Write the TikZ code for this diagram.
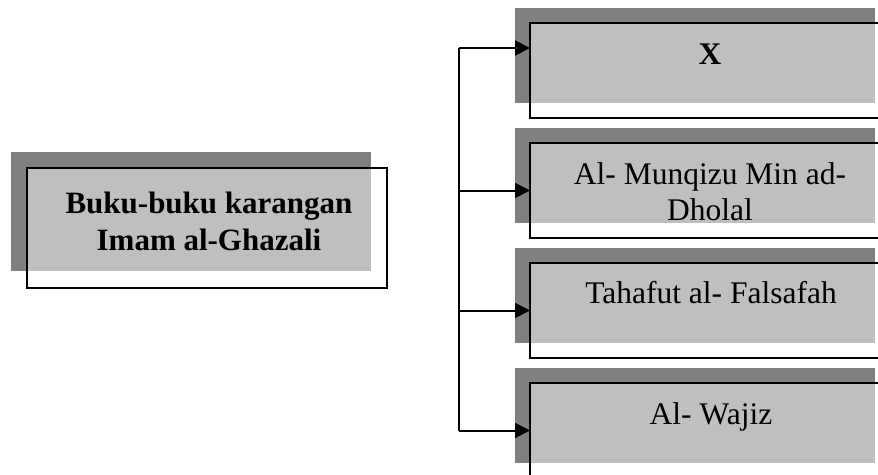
\documentclass[tikz,border=0pt]{standalone}
\usepackage{fontspec}
\setmainfont{Liberation Serif}
\usetikzlibrary{arrows.meta}
\definecolor{bayang}{gray}{0.5}
\definecolor{isi}{gray}{0.75}

\begin{document}
\begin{tikzpicture}[x=1pt, y=-1pt,
    kotak/.style={draw=black, line width=2.2pt, minimum width=360pt, minimum height=95pt, inner sep=0pt, outer sep=0pt, anchor=north west},
    teks/.style={anchor=base, align=center, inner sep=0pt, font=\fontsize{31.5}{36.5}\selectfont},
    panah/.style={line width=2pt, -{Triangle[length=15pt, width=15pt]}}]
    \useasboundingbox (0,0) rectangle (878,474);
    \clip (0,0) rectangle (878,474);
    % bayangan dan isi
    \fill[bayang] (11,152) rectangle (371,271);
    \fill[isi] (27,168) rectangle (371,271);
    \fill[bayang] (515,8) rectangle (875,103);
    \fill[isi] (530,23) rectangle (875,103);
    \fill[bayang] (515,128) rectangle (875,223);
    \fill[isi] (530,143) rectangle (875,223);
    \fill[bayang] (515,248) rectangle (875,343);
    \fill[isi] (530,263) rectangle (875,343);
    \fill[bayang] (515,368) rectangle (875,463);
    \fill[isi] (530,383) rectangle (875,463);
    % kotak
    \node[kotak, minimum height=120pt] (utama) at (27,168) {};
    \node[kotak] (kitab1) at (530,23) {};
    \node[kotak] (kitab2) at (530,143) {};
    \node[kotak] (kitab3) at (530,263) {};
    \node[kotak] (kitab4) at (530,383) {};
    % teks (base = baris terakhir)
    \node[teks, font=\fontsize{31}{37}\selectfont\bfseries] (judul) at (209,250.3) {Buku-buku karangan\\Imam al-Ghazali};
    \node[teks, font=\fontsize{31.5}{36.5}\selectfont\bfseries] (nama1) at (710,64.3) {X};
    \node[teks] (nama2) at (710,220.7) {Al- Munqizu Min ad-\\Dholal};
    \node[teks] (nama3) at (711,303.3) {Tahafut al- Falsafah};
    \node[teks] (nama4) at (711,424.3) {Al- Wajiz};
    % panah
    \coordinate (tulang) at (458.5,48);
    \coordinate (masuk1) at (530,48);
    \draw[line width=2pt] (tulang) -- (kitab4.west -| tulang);
    \draw[panah] (tulang) -- (masuk1);
    \draw[panah] (kitab2.west -| tulang) -- (kitab2.west);
    \draw[panah] (kitab3.west -| tulang) -- (kitab3.west);
    \draw[panah] (kitab4.west -| tulang) -- (kitab4.west);
\end{tikzpicture}
\end{document}
